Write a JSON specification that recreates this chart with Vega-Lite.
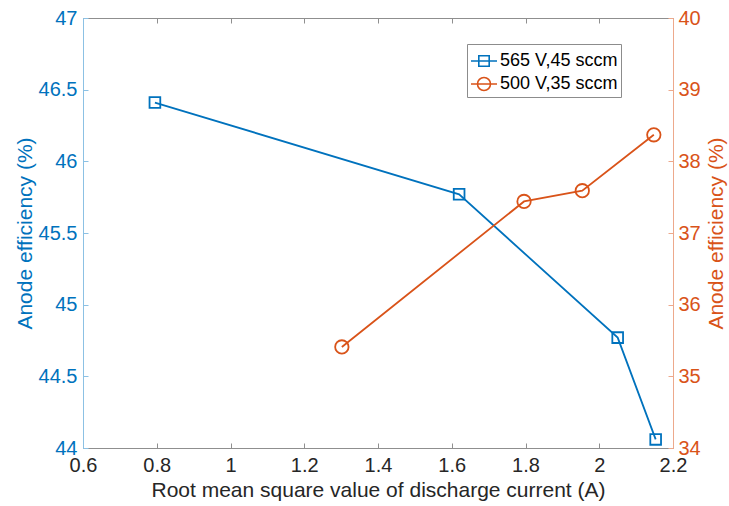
{
  "$schema": "https://vega.github.io/schema/vega-lite/v6.json",
  "width": 590,
  "height": 430,
  "autosize": "none",
  "padding": {"left": 83, "top": 18, "right": 56, "bottom": 58},
  "background": "white",
  "config": {
    "view": {"stroke": null},
    "font": "Liberation Sans",
    "axis": {
      "grid": false,
      "labelFont": "Liberation Sans",
      "titleFont": "Liberation Sans",
      "labelFontSize": 20,
      "titleFontSize": 21,
      "titleFontWeight": "normal",
      "tickSize": -5,
      "tickWidth": 1,
      "domainWidth": 1,
      "labelPadding": 12,
      "labelFlush": false,
      "labelOverlap": false
    }
  },
  "data": {
    "values": [
      {"current": 0.795, "efficiency": 46.41, "series": "565 V,45 sccm"},
      {"current": 1.62, "efficiency": 45.77, "series": "565 V,45 sccm"},
      {"current": 2.05, "efficiency": 44.77, "series": "565 V,45 sccm"},
      {"current": 2.153, "efficiency": 44.06, "series": "565 V,45 sccm"},
      {"current": 1.302, "efficiency": 35.41, "series": "500 V,35 sccm"},
      {"current": 1.796, "efficiency": 37.44, "series": "500 V,35 sccm"},
      {"current": 1.954, "efficiency": 37.59, "series": "500 V,35 sccm"},
      {"current": 2.148, "efficiency": 38.37, "series": "500 V,35 sccm"}
    ]
  },
  "layer": [
    {
      "transform": [{"filter": "datum.series === '565 V,45 sccm'"}],
      "encoding": {
        "x": {
          "field": "current",
          "type": "quantitative",
          "scale": {"domain": [0.6, 2.2], "nice": false, "zero": false},
          "axis": {
            "orient": "bottom",
            "title": "Root mean square value of discharge current (A)",
            "titleColor": "#262626",
            "titlePadding": 4,
            "values": [0.6, 0.8, 1, 1.2, 1.4, 1.6, 1.8, 2, 2.2],
            "format": "~g",
            "labelColor": "#262626",
            "domainColor": "#8f8f8f",
            "tickColor": "#8f8f8f",
            "labelPadding": 12
          }
        },
        "y": {
          "field": "efficiency",
          "type": "quantitative",
          "scale": {"domain": [44, 47], "nice": false, "zero": false},
          "axis": {
            "orient": "left",
            "title": "Anode efficiency (%)",
            "titleColor": "#0072BD",
            "titlePadding": 3,
            "values": [44, 44.5, 45, 45.5, 46, 46.5, 47],
            "format": "~g",
            "labelColor": "#0072BD",
            "domainColor": "#8cc1e4",
            "tickColor": "#8cc1e4",
            "labelPadding": 11
          }
        },
        "color": {
          "field": "series",
          "type": "nominal",
          "scale": {
            "domain": ["565 V,45 sccm", "500 V,35 sccm"],
            "range": ["#0072BD", "#D95319"]
          },
          "legend": {
            "title": null,
            "orient": "none",
            "legendX": 384,
            "legendY": 26,
            "padding": 3,
            "fillColor": "white",
            "strokeColor": "#8c8c8c",
            "labelFont": "Liberation Sans",
            "labelFontSize": 18,
            "labelColor": "#000000",
            "labelOffset": 2,
            "symbolSize": 676,
            "symbolStrokeWidth": 1.6,
            "symbolFillColor": "transparent",
            "rowPadding": -3,
            "encode": {
              "symbols": {
                "update": {
                  "shape": {
                    "signal": "datum.value === '565 V,45 sccm' ? 'M-1,0H1M-0.4,-0.4H0.4V0.4H-0.4Z' : 'M-1,0H1M-0.5,0A0.5,0.5 0 1 1 0.5,0A0.5,0.5 0 1 1 -0.5,0Z'"
                  },
                  "fill": {"value": "transparent"}
                }
              }
            }
          }
        }
      },
      "layer": [
        {"mark": {"type": "line", "strokeWidth": 1.8}},
        {"mark": {"type": "point", "shape": "square", "filled": false, "size": 115, "strokeWidth": 1.8, "opacity": 1}}
      ]
    },
    {
      "transform": [{"filter": "datum.series === '500 V,35 sccm'"}],
      "encoding": {
        "x": {
          "field": "current",
          "type": "quantitative",
          "scale": {"domain": [0.6, 2.2], "nice": false, "zero": false},
          "axis": {
            "orient": "top",
            "title": null,
            "labels": false,
            "values": [0.6, 0.8, 1, 1.2, 1.4, 1.6, 1.8, 2, 2.2],
            "domainColor": "#8f8f8f",
            "tickColor": "#8f8f8f"
          }
        },
        "y": {
          "field": "efficiency",
          "type": "quantitative",
          "scale": {"domain": [34, 40], "nice": false, "zero": false},
          "axis": {
            "orient": "right",
            "title": "Anode efficiency (%)",
            "titleAngle": 270,
            "titleBaseline": "top",
            "titleColor": "#D95319",
            "titlePadding": 5,
            "values": [34, 35, 36, 37, 38, 39, 40],
            "format": "~g",
            "labelColor": "#D95319",
            "domainColor": "#eda98c",
            "tickColor": "#eda98c",
            "labelPadding": 10
          }
        },
        "color": {
          "field": "series",
          "type": "nominal",
          "scale": {
            "domain": ["565 V,45 sccm", "500 V,35 sccm"],
            "range": ["#0072BD", "#D95319"]
          }
        }
      },
      "layer": [
        {"mark": {"type": "line", "strokeWidth": 1.8}},
        {"mark": {"type": "point", "shape": "circle", "filled": false, "size": 180, "strokeWidth": 1.8, "opacity": 1}}
      ]
    }
  ],
  "resolve": {
    "scale": {"y": "independent"},
    "axis": {"x": "independent", "y": "independent"}
  }
}
